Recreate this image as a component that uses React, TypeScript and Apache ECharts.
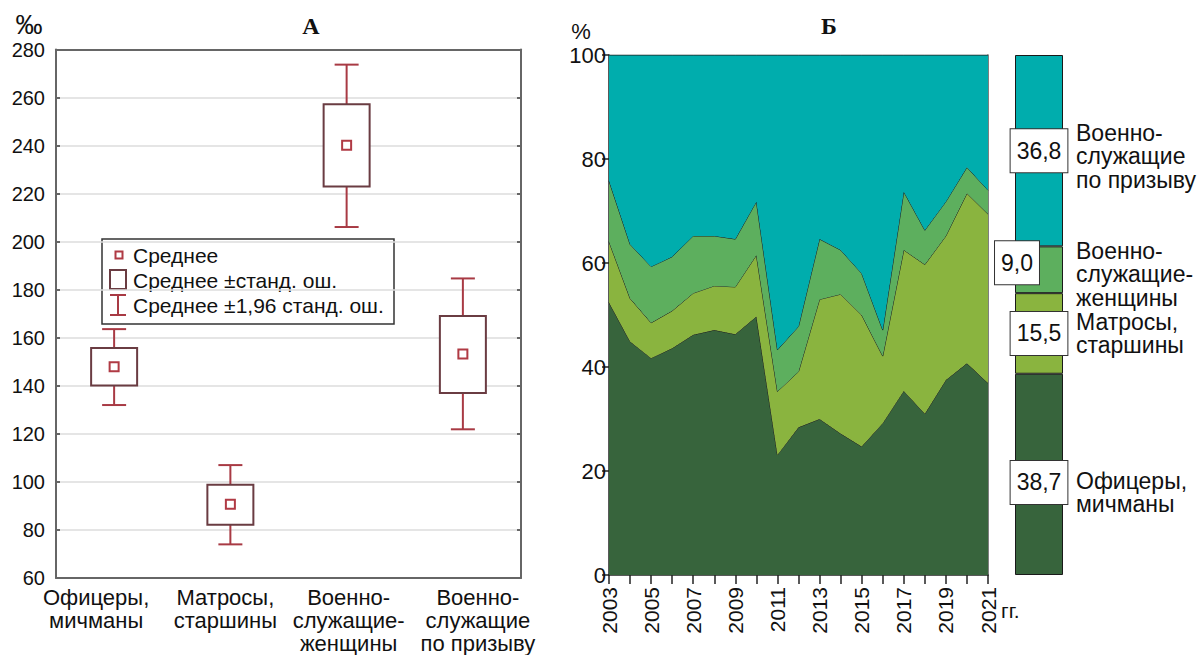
import React, { useEffect, useRef } from "react";
import * as echarts from "echarts";

// Panel А: means with standard error (box) and ±1.96 SE (whiskers), ‰
const groupsA = [
  "Офицеры,\nмичманы",
  "Матросы,\nстаршины",
  "Военно-\nслужащие-\nженщины",
  "Военно-\nслужащие\nпо призыву",
];
const meanA = [147.9, 90.7, 240.1, 153.2];
const seLowA = [140.1, 82.2, 223.0, 137.0];
const seHighA = [155.7, 98.8, 257.2, 169.1];
const ciLowA = [132.0, 74.0, 206.1, 121.9];
const ciHighA = [163.6, 107.0, 273.7, 184.7];
// small horizontal nudges for the multi-line category captions
const captionShiftA = [-18, -5, 2, 15];

// Panel Б: structure by year, %
const years = [
  "2003", "2004", "2005", "2006", "2007", "2008", "2009", "2010", "2011", "2012",
  "2013", "2014", "2015", "2016", "2017", "2018", "2019", "2020", "2021",
];
const officers = [52.4, 44.9, 41.7, 43.6, 46.2, 47.1, 46.3, 49.7, 23.1, 28.4, 30.0, 27.2, 24.7, 29.2, 35.4, 31.0, 37.5, 40.7, 36.9];
const sailors = [11.7, 8.3, 6.8, 7.2, 8.0, 8.5, 9.1, 11.8, 12.2, 10.7, 23.0, 26.8, 25.3, 12.9, 27.1, 28.7, 27.7, 32.7, 32.5];
const women = [11.7, 10.4, 10.8, 10.4, 11.0, 9.6, 9.2, 10.3, 8.0, 8.7, 11.6, 8.5, 8.0, 5.0, 11.2, 6.6, 6.6, 5.0, 4.6];
const conscripts = [24.2, 36.4, 40.7, 38.8, 34.8, 34.8, 35.4, 28.2, 56.7, 52.2, 35.4, 37.5, 42.0, 52.9, 26.3, 33.7, 28.2, 21.6, 26.0];

// Average shares over the whole period, %
const avgOfficers = 38.7;
const avgSailors = 15.5;
const avgWomen = 9.0;
const avgConscripts = 36.8;

const layerNames = [
  "Офицеры,\nмичманы",
  "Матросы,\nстаршины",
  "Военно-\nслужащие-\nженщины",
  "Военно-\nслужащие\nпо призыву",
];
const layerColors = ["#37643c", "#8ab43f", "#5daf5e", "#00adad"];

const FONT = "'Liberation Sans', Arial, sans-serif";
const SERIF = "'Liberation Serif', 'Times New Roman', serif";
const BOX_COLOR = "#6a3c42";
const WHISKER_COLOR = "#a83a44";
const MEAN_COLOR = "#b03a44";
const FRAME = "#666";

function fmt(v: number) {
  return v.toFixed(1).replace(".", ",");
}

export default function App() {
  const ref = useRef<HTMLDivElement>(null);

  useEffect(() => {
    document.body.style.margin = "0";
    const chart = echarts.init(ref.current!, null, { renderer: "svg" });

    const boxData = groupsA.map((_, i) => [i, meanA[i], seLowA[i], seHighA[i], ciLowA[i], ciHighA[i]]);

    const renderBox = (params: any, api: any) => {
      const idx = api.value(0);
      const pMean = api.coord([idx, api.value(1)]);
      const x = pMean[0];
      const yMean = pMean[1];
      const ySeLo = api.coord([idx, api.value(2)])[1];
      const ySeHi = api.coord([idx, api.value(3)])[1];
      const yCiLo = api.coord([idx, api.value(4)])[1];
      const yCiHi = api.coord([idx, api.value(5)])[1];
      const hw = 23;
      const cw = 12;
      const ms = 4.5;
      const ws = { stroke: WHISKER_COLOR, lineWidth: 2 };
      return {
        type: "group",
        children: [
          { type: "line", shape: { x1: x, y1: ySeHi, x2: x, y2: yCiHi }, style: ws },
          { type: "line", shape: { x1: x - cw, y1: yCiHi, x2: x + cw, y2: yCiHi }, style: ws },
          { type: "line", shape: { x1: x, y1: ySeLo, x2: x, y2: yCiLo }, style: ws },
          { type: "line", shape: { x1: x - cw, y1: yCiLo, x2: x + cw, y2: yCiLo }, style: ws },
          {
            type: "rect",
            shape: { x: x - hw, y: ySeHi, width: 2 * hw, height: ySeLo - ySeHi },
            style: { fill: "#fff", stroke: BOX_COLOR, lineWidth: 2 },
          },
          {
            type: "rect",
            shape: { x: x - ms, y: yMean - ms, width: 2 * ms, height: 2 * ms },
            style: { fill: "#fff", stroke: MEAN_COLOR, lineWidth: 2 },
          },
        ],
      };
    };

    const layers = [officers, sailors, women, conscripts];
    const avgs = [avgOfficers, avgSailors, avgWomen, avgConscripts];
    const avgLabelOffsets = [[0, 8], [0, 0], [-22, -7], [0, 0]];

    const legendX = 102;
    const legendY = 239;
    const captionFont = `23px ${FONT}`;

    const option: any = {
      animation: false,
      textStyle: { fontFamily: FONT },
      grid: [
        { left: 56, top: 49.5, width: 465, height: 532, containLabel: false },
        { left: 609, top: 55, width: 379, height: 520, containLabel: false },
        { left: 1015, top: 55, width: 48, height: 520, containLabel: false },
      ],
      xAxis: [
        {
          type: "category",
          gridIndex: 0,
          data: groupsA.map((g, i) => ({
            value: g,
            textStyle: {
              padding: captionShiftA[i] < 0 ? [0, -2 * captionShiftA[i], 0, 0] : [0, 0, 0, 2 * captionShiftA[i]],
            },
          })),
          boundaryGap: true,
          axisLine: { lineStyle: { color: FRAME, width: 2 } },
          axisTick: { inside: true, alignWithLabel: true, length: 4, lineStyle: { color: FRAME, width: 2 } },
          axisLabel: { fontSize: 22, color: "#111", lineHeight: 23, margin: 8, interval: 0, fontFamily: FONT },
          splitLine: { show: false },
        },
        {
          type: "category",
          gridIndex: 0,
          position: "top",
          data: groupsA,
          boundaryGap: true,
          axisLine: { lineStyle: { color: FRAME, width: 2 } },
          axisTick: { inside: true, alignWithLabel: true, length: 4, lineStyle: { color: FRAME, width: 2 } },
          axisLabel: { show: false },
          splitLine: { show: false },
        },
        {
          type: "category",
          gridIndex: 1,
          data: years,
          boundaryGap: false,
          axisLine: { lineStyle: { color: "#222", width: 1.5 } },
          axisTick: { interval: 0, length: 9, lineStyle: { color: "#222", width: 1.5 } },
          axisLabel: { interval: 1, rotate: 90, fontSize: 21, color: "#111", margin: 12, fontFamily: FONT },
        },
        {
          type: "category",
          gridIndex: 2,
          data: ["avg"],
          show: false,
        },
      ],
      yAxis: [
        {
          type: "value",
          gridIndex: 0,
          min: 60,
          max: 280,
          interval: 20,
          axisLine: { show: true, lineStyle: { color: FRAME, width: 2 } },
          axisTick: { show: true, inside: true, length: 4, lineStyle: { color: FRAME, width: 2 } },
          axisLabel: { fontSize: 20, color: "#111", margin: 11, fontFamily: FONT },
          splitLine: { show: true, lineStyle: { color: "#dcdcdc", width: 1.5 } },
        },
        {
          type: "value",
          gridIndex: 0,
          position: "right",
          min: 60,
          max: 280,
          interval: 20,
          axisLine: { show: true, lineStyle: { color: FRAME, width: 2 } },
          axisTick: { show: true, inside: true, length: 4, lineStyle: { color: FRAME, width: 2 } },
          axisLabel: { show: false },
          splitLine: { show: false },
        },
        {
          type: "value",
          gridIndex: 1,
          min: 0,
          max: 100,
          interval: 20,
          axisLine: { show: true, lineStyle: { color: "#222", width: 1.5 } },
          axisTick: { show: true, length: 7, lineStyle: { color: "#222", width: 1.5 } },
          axisLabel: { fontSize: 22, color: "#111", margin: 3, fontFamily: FONT },
          splitLine: { show: false },
        },
        {
          type: "value",
          gridIndex: 1,
          position: "right",
          min: 0,
          max: 100,
          interval: 20,
          axisLine: { show: true, lineStyle: { color: "#555", width: 1.5 } },
          axisTick: { show: false },
          axisLabel: { show: false },
          splitLine: { show: false },
        },
        {
          type: "value",
          gridIndex: 2,
          min: 0,
          max: 100,
          show: false,
        },
      ],
      series: [
        {
          type: "custom",
          xAxisIndex: 0,
          yAxisIndex: 0,
          data: boxData,
          encode: { x: 0, y: [1, 2, 3, 4, 5] },
          renderItem: renderBox,
          z: 5,
        },
        ...layers.map((vals, i) => ({
          type: "line",
          name: layerNames[i],
          xAxisIndex: 2,
          yAxisIndex: 2,
          stack: "share",
          data: vals,
          symbol: "none",
          lineStyle: { color: "#1a1a1a", width: 1 },
          areaStyle: { color: layerColors[i], opacity: 1 },
          z: 2 + i * 0.01,
        })),
        ...avgs.map((v, i) => ({
          type: "bar",
          name: layerNames[i],
          xAxisIndex: 3,
          yAxisIndex: 4,
          stack: "avg",
          barWidth: "100%",
          data: [v],
          itemStyle: { color: layerColors[i], borderColor: "#1a1a1a", borderWidth: 1 },
          label: {
            show: true,
            position: "inside",
            offset: avgLabelOffsets[i],
            formatter: (p: any) => fmt(p.value),
            fontSize: 23,
            color: "#111",
            fontFamily: FONT,
            backgroundColor: "#fff",
            borderColor: "#333",
            borderWidth: 1,
            padding: [10, 6],
          },
        })),
      ],
      graphic: [
        // panel titles and units
        { type: "text", x: 311, y: 26, style: { text: "А", font: `bold 24px ${SERIF}`, fill: "#111", textAlign: "center", textVerticalAlign: "middle" } },
        { type: "text", x: 829, y: 26, style: { text: "Б", font: `bold 24px ${SERIF}`, fill: "#111", textAlign: "center", textVerticalAlign: "middle" } },
        { type: "text", x: 29, y: 25, style: { text: "‰", font: `27px ${FONT}`, fill: "#111", textAlign: "center", textVerticalAlign: "middle" } },
        { type: "text", x: 581, y: 31, style: { text: "%", font: `22px ${FONT}`, fill: "#111", textAlign: "center", textVerticalAlign: "middle" } },
        { type: "text", x: 1001, y: 610, style: { text: "гг.", font: `21px ${FONT}`, fill: "#111", textAlign: "left", textVerticalAlign: "middle" } },
        // captions beside the average bar
        { type: "text", x: 1076, y: 121, style: { text: layerNames[3], font: captionFont, lineHeight: 23.5, fill: "#111" } },
        { type: "text", x: 1076, y: 239, style: { text: layerNames[2], font: captionFont, lineHeight: 23.5, fill: "#111" } },
        { type: "text", x: 1076, y: 310, style: { text: layerNames[1], font: captionFont, lineHeight: 23.5, fill: "#111" } },
        { type: "text", x: 1076, y: 469, style: { text: layerNames[0], font: captionFont, lineHeight: 23.5, fill: "#111" } },
        // legend of panel А
        {
          type: "group",
          x: legendX,
          y: legendY,
          children: [
            { type: "rect", shape: { x: 0, y: 0, width: 292, height: 85 }, style: { fill: "#fff", stroke: "#333", lineWidth: 1.5 } },
            { type: "rect", shape: { x: 13.5, y: 12.5, width: 7, height: 7 }, style: { fill: "#fff", stroke: MEAN_COLOR, lineWidth: 2 } },
            { type: "text", x: 31, y: 16, style: { text: "Среднее", font: `21px ${FONT}`, fill: "#111", textVerticalAlign: "middle" } },
            { type: "rect", shape: { x: 8, y: 31, width: 16, height: 19 }, style: { fill: "#fff", stroke: BOX_COLOR, lineWidth: 2 } },
            { type: "text", x: 31, y: 41, style: { text: "Среднее ±станд. ош.", font: `21px ${FONT}`, fill: "#111", textVerticalAlign: "middle" } },
            { type: "line", shape: { x1: 8, y1: 56, x2: 24, y2: 56 }, style: { stroke: WHISKER_COLOR, lineWidth: 2 } },
            { type: "line", shape: { x1: 16, y1: 56, x2: 16, y2: 76 }, style: { stroke: WHISKER_COLOR, lineWidth: 2 } },
            { type: "line", shape: { x1: 8, y1: 76, x2: 24, y2: 76 }, style: { stroke: WHISKER_COLOR, lineWidth: 2 } },
            { type: "text", x: 31, y: 66, style: { text: "Среднее ±1,96 станд. ош.", font: `21px ${FONT}`, fill: "#111", textVerticalAlign: "middle" } },
          ],
        },
      ],
    };

    chart.setOption(option);
    return () => chart.dispose();
  }, []);

  return <div ref={ref} style={{ width: 1204, height: 655, background: "#fff" }} />;
}
